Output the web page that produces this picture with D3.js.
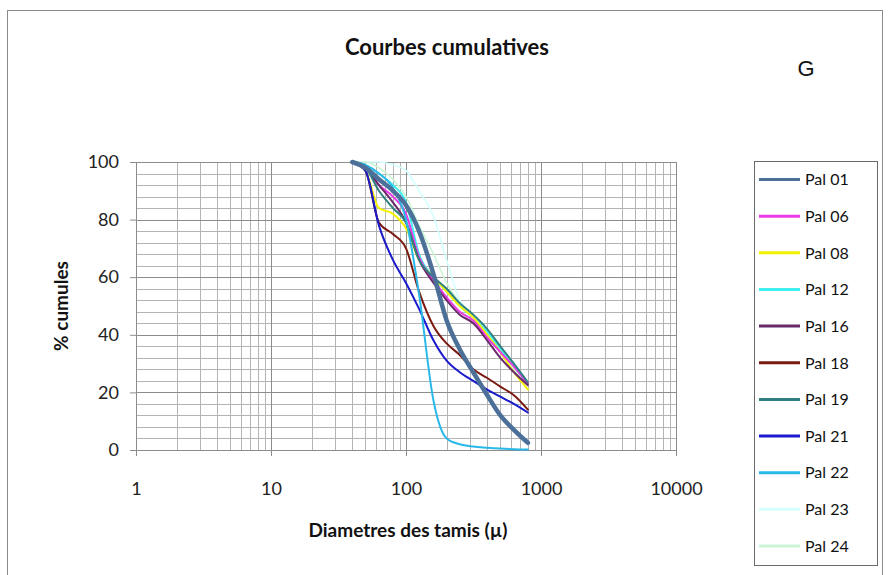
<!DOCTYPE html>
<html>
<head>
<meta charset="utf-8">
<script src="https://cdn.jsdelivr.net/npm/d3@7"></script>
<style>
  html, body { margin: 0; padding: 0; background: #fff; }
  svg { display: block; }
</style>
</head>
<body>
<svg id="chart" width="889" height="575"></svg>
<script>
// ---- data ----
const sieves = [40, 50, 63, 80, 100, 125, 160, 200, 250, 315, 400, 500, 630, 800];
const seriesNames = ["Pal 01","Pal 06","Pal 08","Pal 12","Pal 16","Pal 18","Pal 19","Pal 21","Pal 22","Pal 23","Pal 24"];
const pal01 = [100, 98, 94, 90, 85, 76, 61, 45, 35, 27, 19, 12, 7, 2.5];
const pal06 = [100, 98, 92, 88, 82, 67, 59, 53, 48, 45, 39, 34, 29, 23];
const pal08 = [100, 97, 84, 82, 77, 66, 60, 55, 50, 46, 40, 34, 27, 21];
const pal12 = [100, 99, 96, 92, 86, 68, 60, 55, 50, 46, 41, 35, 29, 23];
const pal16 = [100, 98, 92, 86, 79, 66, 58, 52, 47, 44, 38, 32, 27, 22.5];
const pal18 = [100, 97, 79, 75, 70, 55, 43, 37, 33, 28, 25, 22, 19, 14];
const pal19 = [100, 98, 90, 84, 79, 66, 60, 56, 51, 47, 42, 36, 30, 23.5];
const pal21 = [100, 97, 78, 66, 58, 49, 38, 31, 27, 24, 21, 18.5, 16, 13];
const pal22 = [100, 99, 96, 91, 80, 54, 17, 4, 2, 1.2, 0.8, 0.5, 0.3, 0.2];
const pal23 = [100, 100, 100, 99, 97, 90, 81, 66, 52, 47, 41, 35, 29, 23];
const pal24 = [100, 100, 98, 94, 88, 78, 68, 58, 51, 46, 40, 34, 28, 22.5];
const seriesValues = [pal01, pal06, pal08, pal12, pal16, pal18, pal19, pal21, pal22, pal23, pal24];
const xTickLabels = [1, 10, 100, 1000, 10000];
const yTickLabels = [0, 20, 40, 60, 80, 100];

// ---- styles ----
const colors = ["#4d7099","#ea3ae8","#f2f200","#40f0f0","#6a2a6a","#7a1a10","#2f7f80","#1a1acc","#2ab8e8","#d4ffff","#ccf5d6"];
const widths = [4.5, 2, 2, 2, 2, 2, 2, 2, 2, 1.6, 1.6];
const FONT = "Lato, 'Open Sans', sans-serif";

const svg = d3.select("#chart");
const L = 136, R = 676, T = 162, B = 450;
const x = d3.scaleLog().domain([1, 10000]).range([L, R]);
const y = d3.scaleLinear().domain([0, 100]).range([B, T]);

// outer frame
svg.append("rect").attr("x", 7.5).attr("y", 10.5).attr("width", 875).attr("height", 580)
  .attr("fill", "none").attr("stroke", "#8a8a8a").attr("stroke-width", 1);

// gridlines
const minorY = d3.range(0, 101, 4).filter(v => v % 20 !== 0);
const g = svg.append("g");
g.selectAll(".hmin").data(minorY).join("line")
  .attr("x1", L).attr("x2", R).attr("y1", d => Math.round(y(d)) + 0.5).attr("y2", d => Math.round(y(d)) + 0.5)
  .attr("stroke", "#b4b4b4").attr("stroke-width", 1);
const minorX = x.ticks().filter(v => !xTickLabels.includes(v));
g.selectAll(".vmin").data(minorX).join("line")
  .attr("x1", d => Math.round(x(d)) + 0.5).attr("x2", d => Math.round(x(d)) + 0.5).attr("y1", T).attr("y2", B)
  .attr("stroke", "#b4b4b4").attr("stroke-width", 1);
g.selectAll(".hmaj").data(yTickLabels).join("line")
  .attr("x1", L).attr("x2", R).attr("y1", d => Math.round(y(d)) + 0.5).attr("y2", d => Math.round(y(d)) + 0.5)
  .attr("stroke", "#8c8c8c").attr("stroke-width", 1);
g.selectAll(".vmaj").data(xTickLabels).join("line")
  .attr("x1", d => Math.round(x(d)) + 0.5).attr("x2", d => Math.round(x(d)) + 0.5).attr("y1", T).attr("y2", B)
  .attr("stroke", "#8c8c8c").attr("stroke-width", 1);

// axes
const yAxis = d3.axisLeft(y).tickValues(yTickLabels).tickSize(6).tickPadding(11);
const ya = svg.append("g").attr("transform", `translate(${L},0)`).call(yAxis);
ya.select(".domain").attr("stroke", "#8c8c8c");
ya.selectAll(".tick line").attr("stroke", "#8c8c8c");
ya.selectAll("text").attr("font-family", FONT).attr("font-size", 18).attr("fill", "#222");

const xAxis = d3.axisBottom(x).tickValues(xTickLabels).tickFormat(d3.format("d")).tickSize(6).tickPadding(26);
const xa = svg.append("g").attr("transform", `translate(0,${B})`).call(xAxis);
xa.select(".domain").attr("stroke", "#8c8c8c");
xa.selectAll(".tick line").attr("stroke", "#8c8c8c");
xa.selectAll("text").attr("font-family", FONT).attr("font-size", 18).attr("fill", "#222");

// curves
const line = d3.line()
  .x((d, i) => x(sieves[i]))
  .y(d => y(d))
  .curve(d3.curveMonotoneX);
const order = [9, 10, 3, 2, 1, 4, 6, 5, 7, 8, 0];
svg.append("g").selectAll("path").data(order).join("path")
  .attr("d", k => line(seriesValues[k]))
  .attr("fill", "none")
  .attr("stroke", k => colors[k])
  .attr("stroke-width", k => widths[k])
  .attr("stroke-linejoin", "round")
  .attr("stroke-linecap", "round");

// titles
svg.append("text").attr("x", 447).attr("y", 55).attr("text-anchor", "middle")
  .attr("font-family", FONT).attr("font-weight", "bold").attr("font-size", 22)
  .attr("fill", "#111").text("Courbes cumulatives");
svg.append("text").attr("x", 806).attr("y", 76).attr("text-anchor", "middle")
  .attr("font-family", "'Liberation Sans', Arial, sans-serif").attr("font-size", 22)
  .attr("fill", "#111").text("G");
svg.append("text").attr("transform", "translate(68,306) rotate(-90)").attr("text-anchor", "middle")
  .attr("font-family", FONT).attr("font-weight", "bold").attr("font-size", 19)
  .attr("fill", "#111").text("% cumules");
svg.append("text").attr("x", 408).attr("y", 537).attr("text-anchor", "middle")
  .attr("font-family", FONT).attr("font-weight", "bold").attr("font-size", 19)
  .attr("fill", "#111").text("Diametres des tamis (µ)");

// legend
const lg = svg.append("g");
lg.append("rect").attr("x", 754.5).attr("y", 161.5).attr("width", 123).attr("height", 404)
  .attr("fill", "#fff").attr("stroke", "#6a6a6a").attr("stroke-width", 1);
const ly = d3.scalePoint().domain(seriesNames).range([179.5, 546]);
const items = lg.selectAll("g.item").data(seriesNames).join("g").attr("class", "item")
  .attr("transform", d => `translate(0,${ly(d)})`);
items.append("line").attr("x1", 759).attr("x2", 800).attr("y1", 0).attr("y2", 0)
  .attr("stroke", (d, i) => colors[i]).attr("stroke-width", 3);
items.append("text").attr("x", 805).attr("y", 0).attr("dy", "0.36em")
  .attr("font-family", FONT).attr("font-size", 16)
  .attr("fill", "#111").text(d => d);
</script>
</body>
</html>
